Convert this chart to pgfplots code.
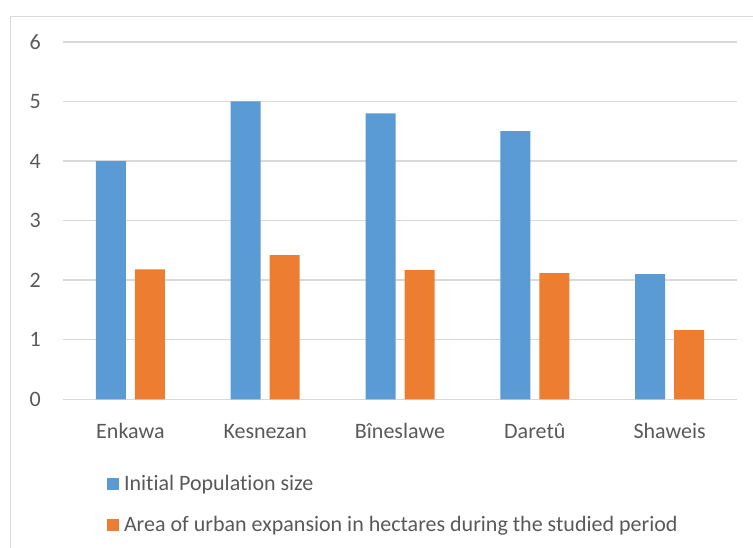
\documentclass[border=0pt]{standalone}
\usepackage{fontspec}
\setmainfont{Carlito}[Ligatures=NoCommon]
\usepackage{pgfplots}
\usepackage{pgfplotstable}
\pgfplotsset{compat=1.18}

\definecolor{barblue}{HTML}{5B9BD5}
\definecolor{barorange}{HTML}{ED7D31}
\definecolor{gridgray}{HTML}{D9D9D9}
\definecolor{labelgray}{HTML}{595959}

% idx: site index; pop: initial population size; area: urban expansion (ha)
\pgfplotstableread{
idx pop area
0 4.0 2.18
1 5.0 2.42
2 4.8 2.17
3 4.5 2.12
4 2.1 1.16
}\sitedata

\newcommand{\chartfont}{\fontsize{22bp}{26bp}\selectfont}

\begin{document}
\begin{tikzpicture}
\useasboundingbox (0,0) rectangle (753bp,548bp);
% chart frame
\draw[gridgray, line width=1.5bp] (10.5bp,-20bp) -- (10.5bp,531.5bp) -- (790bp,531.5bp);
\begin{axis}[
  at={(63bp,148.7bp)}, anchor=south west,
  scale only axis, width=674bp, height=357.4bp,
  xmin=-0.5, xmax=4.5, ymin=0, ymax=6,
  ybar=9bp, bar width=30bp,
  xtick=data,
  xticklabels={Enkawa,Kesnezan,Bîneslawe,Daretû,Shaweis},
  ytick={0,1,2,3,4,5,6},
  ymajorgrids,
  grid style={gridgray, line width=1.5bp},
  axis line style={draw=none},
  major tick length=0pt,
  /pgf/number format/assume math mode=true,
  tick label style={font=\chartfont, text=labelgray, inner sep=0pt},
  yticklabel style={anchor=east, xshift=-22bp},
  xticklabel style={anchor=base, yshift=-38.7bp},
  legend image code/.code={\fill[#1] (0bp,-5bp) rectangle (12bp,7bp);},
  legend cell align=left,
  legend style={
    at={(axis description cs:0,0)}, anchor=north west,
    xshift=43.5bp, yshift=-75.7bp,
    draw=none, fill=none, inner sep=0pt, outer sep=0pt,
    row sep=21bp, column sep=5.5bp,
    nodes={inner sep=0pt, text=labelgray, font=\chartfont,
           text height=15bp, text depth=5bp},
  },
]
\addplot[fill=barblue, draw=none] table[x=idx, y=pop] {\sitedata};
\addplot[fill=barorange, draw=none] table[x=idx, y=area] {\sitedata};
\legend{Initial Population size, Area of urban expansion in hectares during the studied period}
\end{axis}
\end{tikzpicture}
\end{document}
